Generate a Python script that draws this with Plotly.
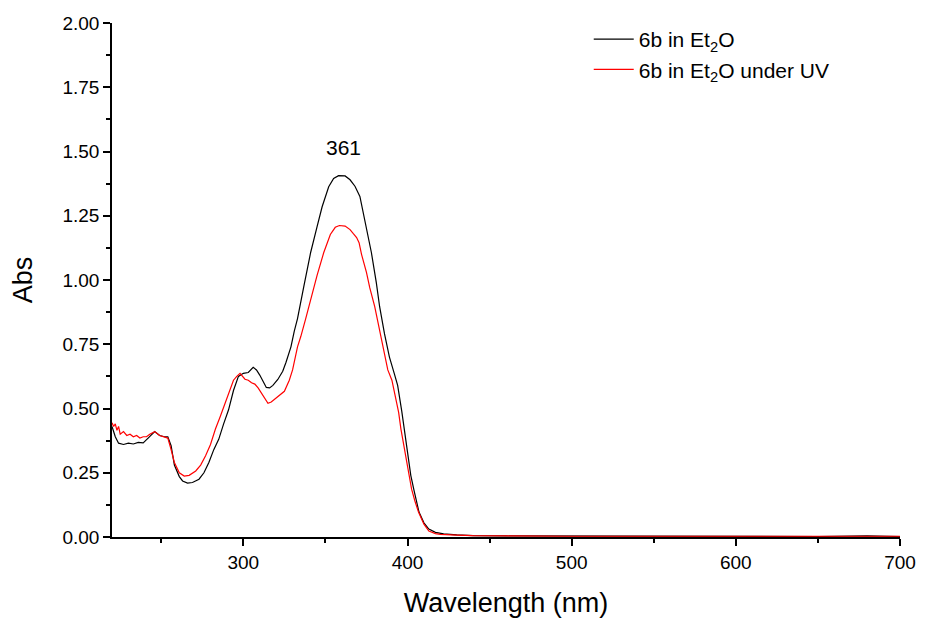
import plotly.graph_objects as go

# Wavelength (nm) and absorbance
wl_black = [220, 222, 224, 227, 230, 233, 236, 239, 242, 246, 249, 252, 254, 256, 258, 261, 263, 266, 269,
            273, 276, 279, 282, 285, 288, 291, 294, 297, 300, 303, 306, 308, 310, 312, 314, 316, 318, 321,
            324, 326, 329, 331, 333, 337, 341, 345, 348, 352, 355, 358, 362, 365, 368, 371, 374, 378, 381,
            383, 386, 389, 392, 394, 396.5, 399.5, 402, 404, 407, 410, 413, 417, 422, 430, 440, 460, 500,
            550, 600, 650, 680, 700]
abs_black = [0.43, 0.39, 0.365, 0.36, 0.365, 0.362, 0.368, 0.366, 0.385, 0.41, 0.395, 0.39, 0.39, 0.355,
             0.28, 0.235, 0.218, 0.21, 0.212, 0.225, 0.25, 0.29, 0.34, 0.38, 0.44, 0.495, 0.57, 0.625, 0.637,
             0.64, 0.66, 0.65, 0.63, 0.605, 0.582, 0.58, 0.59, 0.613, 0.645, 0.68, 0.74, 0.80, 0.85, 0.98,
             1.107, 1.21, 1.285, 1.363, 1.395, 1.406, 1.405, 1.39, 1.365, 1.325, 1.235, 1.107, 0.99, 0.897,
             0.79, 0.70, 0.635, 0.59, 0.49, 0.35, 0.24, 0.18, 0.097, 0.055, 0.031, 0.018, 0.012, 0.008,
             0.005, 0.004, 0.003, 0.003, 0.002, 0.002, 0.004, 0.002]

wl_red = [220, 221, 222, 223, 224, 225, 227, 229, 231, 233, 235, 237, 239, 241, 243, 246, 249, 252, 254,
          256, 258, 261, 264, 267, 271, 274, 277, 280, 283, 286, 289, 292, 294, 296, 298, 301, 303, 305,
          307, 309, 311, 313, 315, 317, 319, 322, 325, 328, 330, 333, 335, 338, 341, 345, 349, 351, 353,
          356, 358.5, 362, 365, 367, 369, 370.5, 372, 375, 377, 380, 383, 386, 388, 390.5, 392.5, 394.6, 396,
          398, 400, 402.5, 404.5, 406.7, 410, 413, 417, 420, 430, 440, 500, 600, 700]
abs_red = [0.445, 0.43, 0.44, 0.415, 0.43, 0.40, 0.41, 0.395, 0.40, 0.39, 0.395, 0.385, 0.39, 0.39, 0.40,
           0.41, 0.395, 0.39, 0.385, 0.34, 0.29, 0.25, 0.237, 0.24, 0.257, 0.28, 0.316, 0.36, 0.42, 0.47,
           0.524, 0.57, 0.61, 0.625, 0.637, 0.614, 0.61, 0.60, 0.595, 0.58, 0.56, 0.535, 0.52, 0.525, 0.536,
           0.55, 0.567, 0.61, 0.65, 0.74, 0.78, 0.85, 0.924, 1.02, 1.107, 1.145, 1.177, 1.205, 1.212, 1.21,
           1.196, 1.18, 1.165, 1.145, 1.10, 1.03, 0.97, 0.897, 0.80, 0.70, 0.65, 0.61, 0.55, 0.485, 0.42,
           0.35, 0.27, 0.186, 0.14, 0.097, 0.05, 0.023, 0.013, 0.01, 0.007, 0.005, 0.003, 0.003, 0.003]

name_black = "6b in Et<sub>2</sub>O"
name_red = "6b in Et<sub>2</sub>O under UV"
peak_label = "361"
peak_x = 361
peak_y = 1.515

FONT = "Liberation Sans, Arial, sans-serif"

fig = go.Figure()
fig.add_trace(go.Scatter(x=wl_black, y=abs_black, mode="lines", name=name_black,
                         line=dict(color="black", width=1.2)))
fig.add_trace(go.Scatter(x=wl_red, y=abs_red, mode="lines", name=name_red,
                         line=dict(color="#ff0000", width=1.2)))

fig.add_annotation(x=peak_x, y=peak_y, text=peak_label, showarrow=False,
                   font=dict(family=FONT, size=21, color="black"))

fig.update_layout(
    width=928, height=625,
    margin=dict(l=112, r=21, t=23, b=87),
    paper_bgcolor="white", plot_bgcolor="white",
    font=dict(family=FONT, size=19, color="black"),
    showlegend=True,
    legend=dict(x=0.605, y=1.008, xanchor="left", yanchor="top",
                bgcolor="rgba(0,0,0,0)", font=dict(family=FONT, size=21),
                itemwidth=40),
)
fig.update_xaxes(
    range=[220, 700], showgrid=False, zeroline=False,
    showline=True, linecolor="black", linewidth=1.5,
    ticks="outside", ticklen=7, tickwidth=1.5, tickcolor="black",
    tick0=0, dtick=100,
    minor=dict(ticks="outside", ticklen=4, tickwidth=1.5, tickcolor="black", dtick=50, showgrid=False),
    tickfont=dict(family=FONT, size=19),
    title=dict(text="Wavelength (nm)", font=dict(family=FONT, size=27), standoff=22),
)
fig.update_yaxes(
    range=[0, 2.0], showgrid=False, zeroline=False,
    showline=True, linecolor="black", linewidth=1.5,
    ticks="outside", ticklen=7, tickwidth=1.5, tickcolor="black",
    tick0=0, dtick=0.25, tickformat=".2f",
    minor=dict(ticks="outside", ticklen=4, tickwidth=1.5, tickcolor="black", dtick=0.125, showgrid=False),
    tickfont=dict(family=FONT, size=19),
    title=dict(text="Abs", font=dict(family=FONT, size=27), standoff=22),
)

# remove the default 8px page margin so the figure sits at (0,0)
fig.write_html("out.html", config={"displayModeBar": False},
               post_script="document.body.style.margin='0px';")
